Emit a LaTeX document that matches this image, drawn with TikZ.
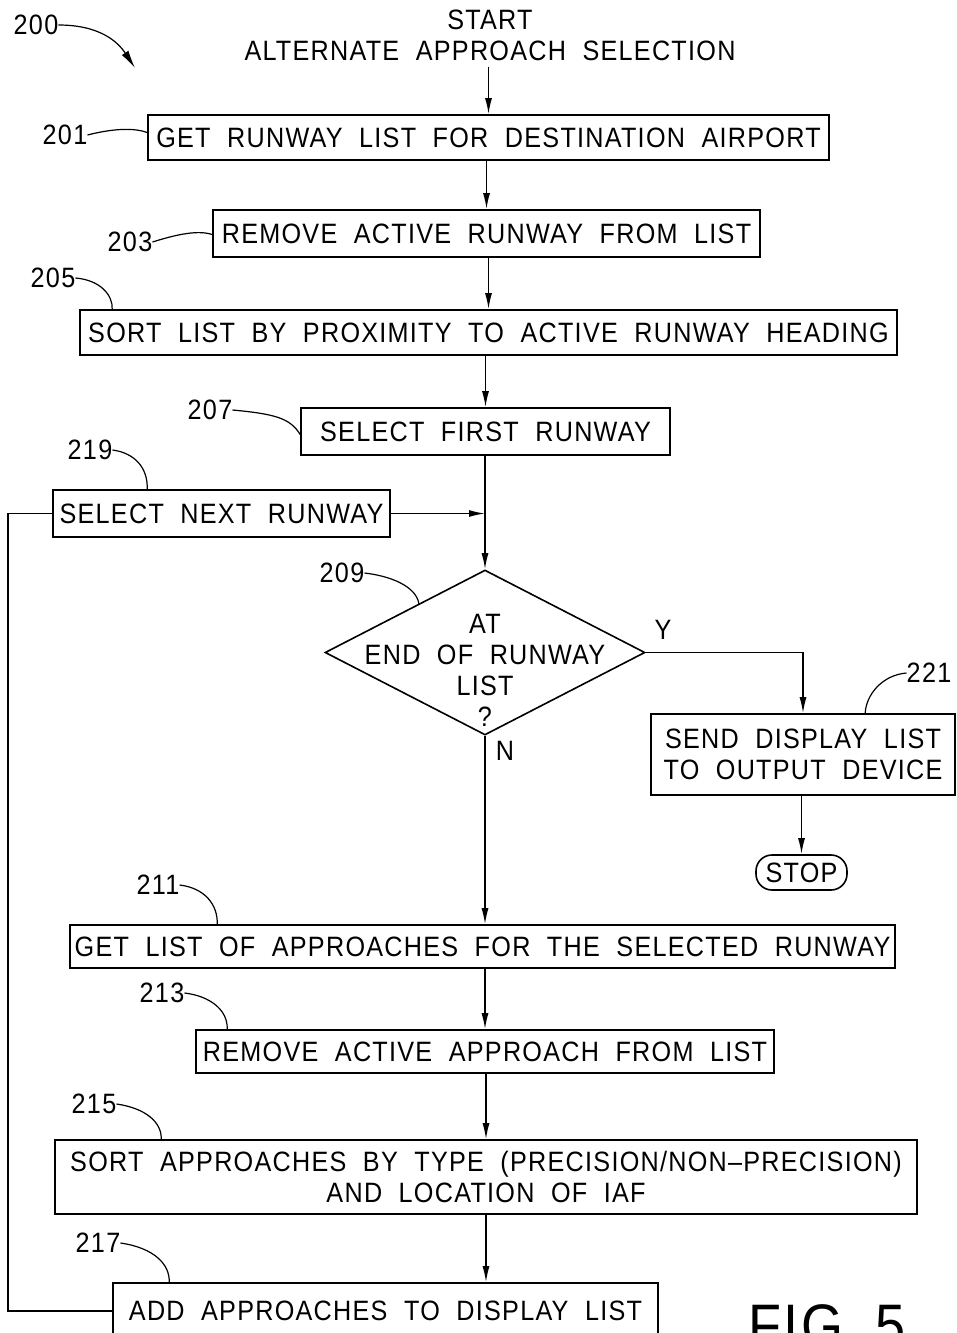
\documentclass[tikz,border=0pt]{standalone}
\usepackage{fontspec}
\setmainfont{Liberation Sans}[FakeStretch=0.9,LetterSpace=4.5,WordSpace=2]
\usetikzlibrary{arrows.meta,shapes.geometric}
\begin{document}
\begin{tikzpicture}[x=1pt,y=-1pt,
  txt/.style={font=\fontsize{28}{31}\selectfont, align=center},
  box/.style={draw, line width=1.6pt, inner sep=0pt, txt},
  flow/.style={line width=1.5pt, -{Latex[length=16pt,width=7pt]}},
  link/.style={line width=1.5pt},
  lab/.style={txt, inner sep=0pt},
  lead/.style={line width=1.2pt}]
\useasboundingbox (0,0) rectangle (956,1333);
\clip (0,0) rectangle (956,1333);

% start
\node[lab] (start) at (490,35) {START\\ALTERNATE APPROACH SELECTION};

% boxes
\node[box, minimum width=681, minimum height=45] (b201) at (488.5,137.5) {GET RUNWAY LIST FOR DESTINATION AIRPORT};
\node[box, minimum width=547, minimum height=47] (b203) at (486.5,233.5) {REMOVE ACTIVE RUNWAY FROM LIST};
\node[box, minimum width=817, minimum height=45] (b205) at (488.5,332.5) {SORT LIST BY PROXIMITY TO ACTIVE RUNWAY HEADING};
\node[box, minimum width=369, minimum height=47] (b207) at (485.5,431.5) {SELECT FIRST RUNWAY};
\node[box, minimum width=337, minimum height=47] (b219) at (221.5,513.5) {SELECT NEXT RUNWAY};
\node[draw, diamond, line width=1.6pt, inner sep=0pt, minimum width=320, minimum height=165] (d209) at (485,652.5) {};
\node[lab] (dtxt) at (485,670) {AT\\END OF RUNWAY\\LIST\\?};
\node[box, minimum width=304, minimum height=81] (b221) at (803,754.5) {SEND DISPLAY LIST\\TO OUTPUT DEVICE};
\node[box, rounded corners=16pt, minimum width=91, minimum height=35] (stop) at (801.5,872.5) {STOP};
\node[box, minimum width=825, minimum height=43] (b211) at (482.5,946.5) {GET LIST OF APPROACHES FOR THE SELECTED RUNWAY};
\node[box, minimum width=578, minimum height=43] (b213) at (485,1051.5) {REMOVE ACTIVE APPROACH FROM LIST};
\node[box, minimum width=862, minimum height=74] (b215) at (486,1177) {SORT APPROACHES BY TYPE (PRECISION/NON{\textendash}PRECISION)\\AND LOCATION OF IAF};
\node[box, minimum width=545, minimum height=56] (b217) at (385.5,1311) {ADD APPROACHES TO DISPLAY LIST};

% branch labels
\node[lab] (ylab) at (663,630) {Y};
\node[lab] (nlab) at (505,751) {N};

% flow connectors
\coordinate (st) at ([yshift=-6]start.south -| b201.north);
\draw[flow] (st) -- (b201.north);
\draw[flow] (b201.south -| b203.north) -- (b203.north);
\draw[flow] (b203.south -| b205.north) -- (b205.north);
\draw[flow] (b205.south -| b207.north) -- (b207.north);
\draw[flow] (b207.south -| d209.north) -- (d209.north);
\coordinate (merge) at (b219.east -| d209.north);
\draw[flow] (b219.east) -- (merge);
\draw[flow] (d209.east) -| (b221.north);
\draw[flow] (b221.south -| stop.north) -- (stop.north);
\draw[flow] (d209.south) -- (d209.south |- b211.north);
\draw[flow] (b211.south -| b213.north) -- (b213.north);
\draw[flow] (b213.south -| b215.north) -- (b215.north);
\draw[flow] (b215.south) -- (b215.south |- b217.north);
\coordinate (loopb) at (8,1311);
\draw[link] (b217.west) -- (loopb) |- (b219.west);

% reference numerals
\node[lab] (l200) at (36,25) {200};
\node[lab] (l201) at (65,135) {201};
\node[lab] (l203) at (130,242) {203};
\node[lab] (l205) at (53,278) {205};
\node[lab] (l207) at (210,410) {207};
\node[lab] (l219) at (90,450) {219};
\node[lab] (l209) at (342,573) {209};
\node[lab] (l221) at (929,673) {221};
\node[lab] (l211) at (158,885) {211};
\node[lab] (l213) at (162,993) {213};
\node[lab] (l215) at (94,1104) {215};
\node[lab] (l217) at (98,1243) {217};

% leaders
\draw[lead, -{Latex[length=18pt,width=8pt]}] (l200.east) .. controls (100,25) and (118,42) .. (135,68);
\draw[lead] (l201.east) .. controls (115,128) and (135,128) .. ([yshift=5]b201.west);
\draw[lead] (l203.east) .. controls (178,234) and (198,230) .. ([yshift=-1]b203.west);
\draw[lead] (l205.east) .. controls (100,280) and (113,295) .. ([xshift=33]b205.north west);
\draw[lead] (l207.east) .. controls (275,414) and (290,418) .. ([yshift=-3]b207.west);
\draw[lead] (l219.east) .. controls (135,453) and (148,468) .. ([xshift=95]b219.north west);
\draw[lead] (l209.east) .. controls (398,577) and (418,590) .. (419,605);
\draw[lead] (l221.west) .. controls (882,675) and (866,695) .. ([xshift=215]b221.north west);
\draw[lead] (l211.east) .. controls (205,888) and (218,905) .. ([xshift=148]b211.north west);
\draw[lead] (l213.east) .. controls (210,996) and (228,1010) .. ([xshift=32]b213.north west);
\draw[lead] (l215.east) .. controls (145,1108) and (162,1122) .. ([xshift=107]b215.north west);
\draw[lead] (l217.east) .. controls (155,1248) and (170,1265) .. ([xshift=57]b217.north west);

% figure label
\node[anchor=base west, inner sep=0pt, font=\fontsize{60}{60}\selectfont] (fig) at (748,1346) {FIG.\hspace{14pt}5};
\end{tikzpicture}
\end{document}
